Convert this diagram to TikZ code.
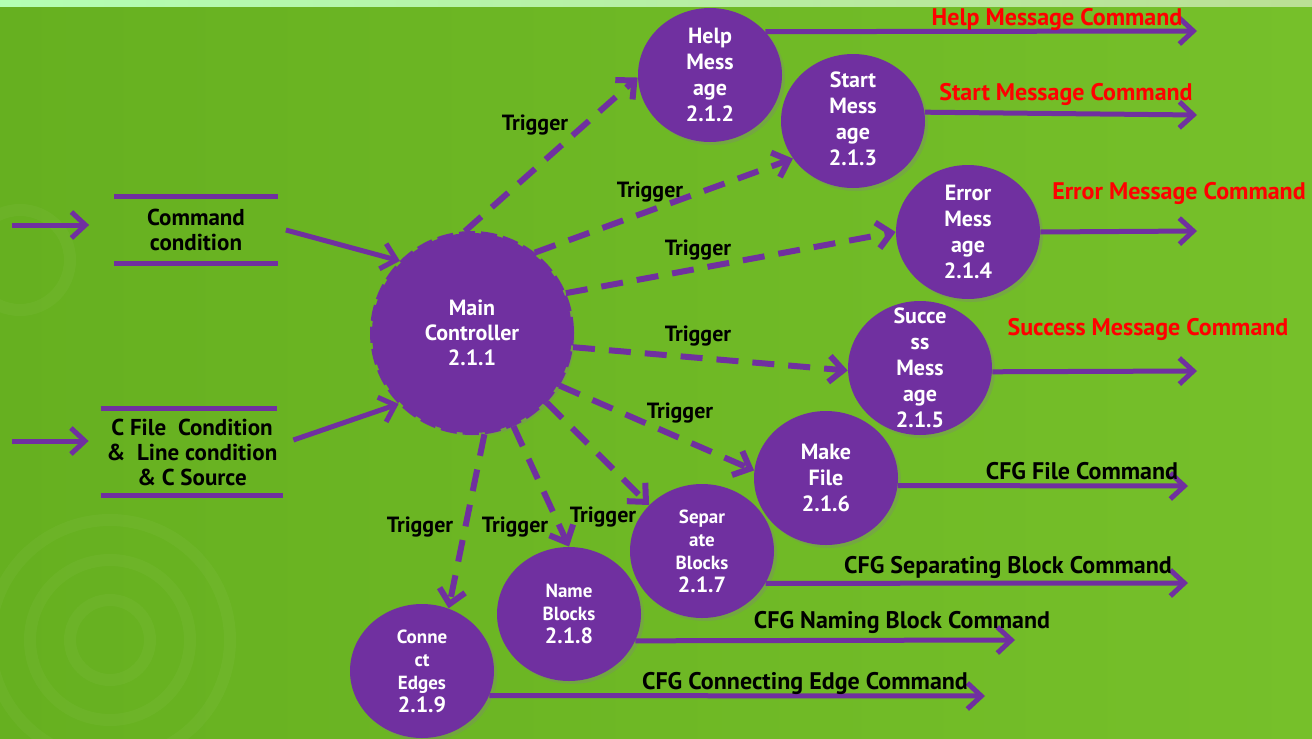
\documentclass[tikz,border=0pt]{standalone}
\usepackage{fontspec}
\setmainfont{PT Sans}
\usetikzlibrary{arrows.meta,shapes.geometric,shadows}

\definecolor{bggreen}{RGB}{108,184,36}
\definecolor{bgdark}{RGB}{102,176,32}
\definecolor{bglight}{RGB}{118,192,42}
\definecolor{procpurple}{RGB}{112,48,160}
\definecolor{cmdred}{RGB}{255,0,0}

\begin{document}
\begin{tikzpicture}[x=0.5pt,y=-0.5pt,
  >={Straight Barb[length=7pt,width=13pt]},
  flow/.style={draw=procpurple, line width=2.5pt, ->},
  trig/.style={draw=procpurple, line width=3pt, dash pattern=on 11pt off 7pt, ->},
  proc/.style={ellipse, fill=procpurple, inner sep=0pt,
    minimum width=72pt, minimum height=67pt,
    drop shadow={shadow xshift=1.5pt, shadow yshift=-1.5pt, opacity=0.3}},
  ptext/.style={text=white, font=\bfseries\fontsize{11}{13}\selectfont, align=center},
  psmall/.style={text=white, font=\bfseries\fontsize{9.5}{11.5}\selectfont, align=center},
  trigtxt/.style={font=\bfseries\fontsize{11}{13}\selectfont},
  cmdtxt/.style={font=\bfseries\fontsize{12}{14}\selectfont},
  storetxt/.style={font=\bfseries\fontsize{11.5}{12.5}\selectfont, align=center, inner sep=0pt},
  storeline/.style={draw=procpurple, line width=2.5pt}
]
% background
\useasboundingbox (0,0) rectangle (1312,739);
\shade[left color=bgdark, right color=bglight] (0,0) rectangle (1312,739);
\shade[left color=green!30!white, middle color=white, right color=bglight!50!white] (0,0) rectangle (1312,6);
\begin{scope}[draw=white, opacity=0.035, line width=6pt]
  \draw (110,640) circle (60pt);
  \draw (110,640) circle (40pt);
  \draw (110,640) circle (20pt);
  \draw (20,260) circle (25pt);
\end{scope}

% data stores
\node[storetxt, minimum width=81.5pt, minimum height=33.5pt] (cs1) at (196,230) {Command\\condition};
\draw[storeline] (cs1.north west) -- (cs1.north east);
\draw[storeline] (cs1.south west) -- (cs1.south east);

\node[storetxt, minimum width=91pt, minimum height=43.5pt] (cs2) at (192,452) {C File\ \ Condition\\\&\ \ Line condition\\\& C Source};
\draw[storeline] (cs2.north west) -- ([xshift=-3pt]cs2.north east);
\draw[storeline] (cs2.south west) -- (cs2.south east);

\coordinate (in1) at (12,225);
\coordinate (in2) at (12,441);

% processes
\node[circle, fill=procpurple, draw=procpurple, line width=2pt,
      dash pattern=on 8pt off 3pt, minimum size=100pt, inner sep=0pt,
      drop shadow={shadow xshift=1.5pt, shadow yshift=-1.5pt, opacity=0.3}] (main) at (472,333) {};
\node[ptext, font=\bfseries\fontsize{11}{12.5}\selectfont] (mainT) at (main) {Main\\Controller\\2.1.1};

\node[proc] (help) at (710,75) {};
\node[ptext] (helpT) at (help) {Help\\Mess\\age\\2.1.2};
\node[proc] (start) at (853,121) {};
\node[ptext] (startT) at (853,119) {Start\\Mess\\age\\2.1.3};
\node[proc] (err) at (968,232) {};
\node[ptext] (errT) at (err) {Error\\Mess\\age\\2.1.4};
\node[proc] (succ) at (920,368) {};
\node[ptext] (succT) at (succ) {Succe\\ss\\Mess\\age\\2.1.5};
\node[proc] (make) at (826,478) {};
\node[ptext] (makeT) at (make) {Make\\File\\2.1.6};
\node[proc] (sep) at (702,551) {};
\node[psmall] (sepT) at (sep) {Separ\\ate\\Blocks\\{\fontsize{11}{12}\selectfont 2.1.7}};
\node[proc] (name) at (569,614) {};
\node[psmall] (nameT) at (name) {Name\\Blocks\\{\fontsize{11}{12}\selectfont 2.1.8}};
\node[proc] (conn) at (422,671) {};
\node[psmall] (connT) at (conn) {Conne\\ct\\Edges\\{\fontsize{11}{12}\selectfont 2.1.9}};

% inputs
\draw[flow] (in1) -- ([xshift=-12.5pt]cs1.west |- in1);
\draw[flow] (in2) -- ([xshift=-6pt]cs2.west |- in2);
\draw[flow] ([xshift=4pt]cs1.east) -- (main.135);
\draw[flow] ([xshift=5pt,yshift=6pt]cs2.east) -- (main.224);

% triggers
\draw[trig] (main.94) -- (help.182);
\draw[trig] (main.52) -- (start.212);
\draw[trig] (main.23) -- (err.west);
\draw[trig] (main.352) -- (succ.182);
\draw[trig] (main.329) -- (make.174);
\draw[trig] (main.317) -- (sep.139);
\draw[trig] (main.294) -- (name.north);
\draw[trig] (main.277) -- (conn.67);

\node[trigtxt] (t1) at (535,125) {Trigger};
\node[trigtxt] (t2) at (650,192) {Trigger};
\node[trigtxt] (t3) at (698,250) {Trigger};
\node[trigtxt] (t4) at (698,336) {Trigger};
\node[trigtxt] (t5) at (680,413) {Trigger};
\node[trigtxt] (t6) at (603,517) {Trigger};
\node[trigtxt] (t7) at (515,527) {Trigger};
\node[trigtxt] (t8) at (420,527) {Trigger};

% outputs
\coordinate (o1) at (1197,31);
\coordinate (o2) at (1197,115);
\coordinate (o3) at (1197,231);
\coordinate (o4) at (1197,371);
\coordinate (o5) at (1188,486);
\coordinate (o6) at (1188,583);
\coordinate (o7) at (1015,640);
\coordinate (o8) at (985,696);

\draw[flow] (help.38) -- (o1);
\draw[flow] (start.7) -- (o2);
\draw[flow] (err.east) -- (o3);
\draw[flow] (succ.357) -- (o4);
\draw[flow] (make.354) -- (o5);
\draw[flow] (sep.333) -- (o6);
\draw[flow] (name.338) -- (o7);
\draw[flow] (conn.340) -- (o8);

\node[cmdtxt, text=cmdred] (c1) at (1057,19) {Help Message Command};
\node[cmdtxt, text=cmdred] (c2) at (1066,94) {Start Message Command};
\node[cmdtxt, text=cmdred] (c3) at (1179,193) {Error Message Command};
\node[cmdtxt, text=cmdred] (c4) at (1148,329) {Success Message Command};
\node[cmdtxt] (c5) at (1082,471) {CFG File Command};
\node[cmdtxt] (c6) at (1008,567) {CFG Separating Block Command};
\node[cmdtxt] (c7) at (902,622) {CFG Naming Block Command};
\node[cmdtxt] (c8) at (805,683) {CFG Connecting Edge Command};
\end{tikzpicture}
\end{document}
